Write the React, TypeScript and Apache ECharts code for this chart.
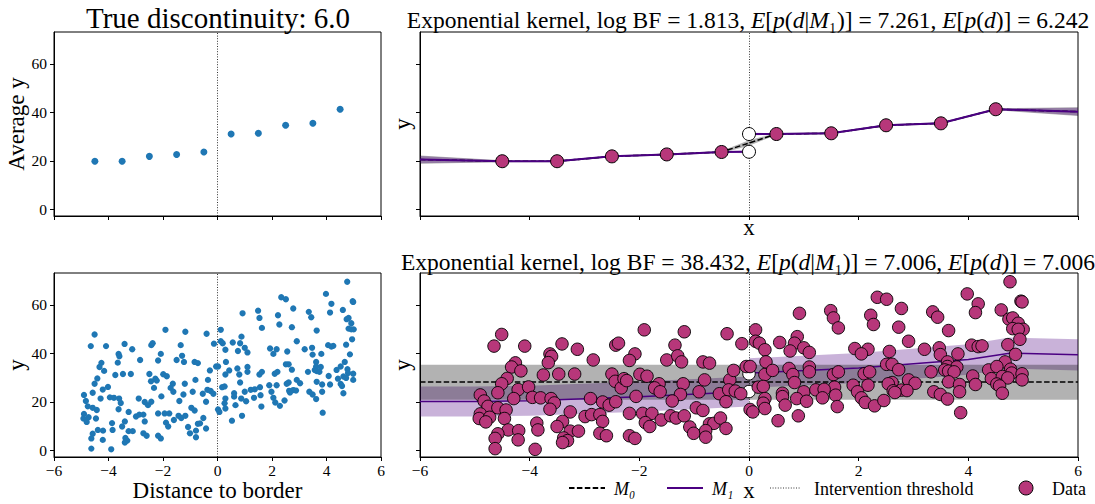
import React, { useEffect, useRef } from 'react';
import * as echarts from 'echarts';

const FONT = "'Liberation Serif', 'Times New Roman', serif";
const PINK = '#b7377a';
const PURPLE = '#4b0082';
const BLUE = '#1f77b4';
const GREY_BAND = 'rgba(0,0,0,0.3)';
const PURPLE_BAND = 'rgba(75,0,130,0.3)';

const Y_MIN = -2.65;
const Y_MAX = 73.1;
const yTickValues = [0, 20, 40, 60];

// binned averages (top row)
const binCentres = [-4.5, -3.5, -2.5, -1.5, -0.5, 0.5, 1.5, 2.5, 3.5, 4.5];
const binMeans = [19.9, 19.9, 21.9, 22.7, 23.7, 31.1, 31.4, 34.7, 35.5, 41.3];

// top-right model curves
const topM0X = [-6, -4.5, -3.5, -2.5, -1.5, -0.5, 0, 0.5, 1.5, 2.5, 3.5, 4.5, 6];
const topM0Y = [20.6, 19.9, 19.9, 21.9, 22.7, 23.7, 27.4, 31.1, 31.4, 34.7, 35.5, 41.3, 40.3];
const topM0Hw = [1.7, 0.4, 0.4, 0.4, 0.4, 0.4, 1.1, 0.4, 0.4, 0.4, 0.4, 0.4, 1.8];
const topM1LeftX = [-6, -4.5, -3.5, -2.5, -1.5, -0.5, 0];
const topM1LeftY = [20.6, 19.9, 19.9, 21.9, 22.7, 23.7, 23.8];
const topM1LeftHw = [1.5, 0.3, 0.3, 0.3, 0.3, 0.3, 0.6];
const topM1RightX = [0, 0.5, 1.5, 2.5, 3.5, 4.5, 6];
const topM1RightY = [31.1, 31.1, 31.4, 34.7, 35.5, 41.3, 40.3];
const topM1RightHw = [0.6, 0.3, 0.3, 0.3, 0.3, 0.3, 1.6];
const topCuts = [23.8, 31.1];

// bottom-right model curves
const botM0X = [-6, 6];
const botM0Y = [28.2, 28.2];
const botM0Lo = [20.9, 20.9];
const botM0Hi = [35.3, 35.3];
const botM1LeftX = [-6, -5, -4, -2, 0];
const botM1LeftY = [20.2, 20.2, 20.5, 22.2, 24.3];
const botM1LeftHw = [6.2, 6.2, 6.2, 6.2, 6.2];
const botM1RightX = [0, 2, 4, 4.75, 6];
const botM1RightY = [31.9, 34.0, 37.5, 40.1, 39.4];
const botM1RightHw = [6.1, 6.2, 6.3, 6.4, 6.4];
const botCuts = [24.3, 31.6];

// raw observations (x = distance to border, y)
const obsFarLeft = [
  [-4.51, 47.8], [-4.65, 43.0], [-4.09, 43.0], [-3.41, 43.9], [-3.13, 41.7], [-2.43, 43.4], [-3.63, 39.8], [-3.6, 38.8],
  [-4.26, 36.1], [-4.33, 34.4], [-4.16, 32.8], [-3.66, 36.2], [-2.84, 37.3], [-3.75, 31.1], [-3.47, 31.5], [-3.18, 31.5],
  [-2.5, 31.5], [-2.44, 28.5], [-4.41, 29.7], [-4.51, 27.5], [-4.58, 23.8], [-4.21, 25.1], [-4.02, 26.2], [-4.9, 22.9],
  [-4.83, 20.4], [-4.76, 18.2], [-4.58, 17.6], [-4.43, 16.7], [-4.29, 21.4], [-3.95, 21.9], [-3.8, 21.7], [-3.61, 21.4],
  [-3.55, 19.6], [-3.63, 17.0], [-2.89, 21.4], [-2.67, 20.0], [-2.55, 18.7], [-4.9, 15.1], [-4.92, 13.2], [-4.73, 13.7],
  [-4.46, 13.2], [-4.8, 11.8], [-3.26, 15.9], [-2.99, 14.0], [-2.87, 14.8], [-2.72, 14.8], [-2.67, 12.0], [-3.4, 12.0],
  [-3.5, 9.9], [-3.26, 8.0], [-3.11, 8.0], [-3.87, 11.3], [-3.85, 8.5], [-4.39, 8.5], [-4.2, 8.2], [-4.58, 6.9],
  [-4.63, 5.0], [-4.21, 4.4], [-3.38, 5.2], [-3.31, 4.1], [-3.4, 3.3], [-2.72, 7.1], [-2.6, 6.1], [-4.63, 0.8], [-3.9, 0.5],
];
const obsNearLeft = [
  [-1.91, 49.7], [-1.18, 48.9], [-0.4, 48.1], [-2.38, 44.2], [-1.35, 43.4], [-0.13, 44.0], [-2.08, 39.8], [-2.18, 37.1],
  [-1.5, 37.3], [-1.3, 39.0], [-1.23, 36.5], [-0.84, 36.5], [-0.72, 36.0], [-2.33, 25.8], [-2.28, 29.6], [-2.23, 28.8],
  [-1.99, 31.4], [-1.86, 30.6], [-1.64, 27.5], [-1.72, 25.8], [-1.62, 24.2], [-1.2, 27.5], [-0.81, 29.1], [-0.35, 29.1],
  [-0.28, 33.0], [-0.05, 34.6], [-0.91, 24.2], [-1.25, 23.1], [-1.4, 20.4], [-2.06, 22.3], [-0.54, 23.4], [-0.37, 25.0],
  [-0.25, 24.5], [-0.15, 23.4], [-0.42, 20.1], [-2.43, 20.1], [-2.18, 15.3], [-1.94, 15.3], [-1.77, 15.3], [-1.89, 11.5],
  [-1.81, 9.9], [-1.6, 12.6], [-1.43, 14.3], [-1.33, 13.4], [-1.18, 14.3], [-0.96, 17.6], [-0.84, 16.5], [-0.72, 11.0],
  [-0.64, 11.2], [-0.52, 13.4], [-1.08, 9.7], [-1.01, 7.1], [-0.79, 8.2], [-0.79, 5.5], [-0.42, 9.1], [-2.18, 6.1],
  [-2.08, 5.0], [0.02, 16.9],
];
const obsNearRight = [
  [2.34, 63.1], [2.51, 62.3], [0.92, 56.5], [1.49, 57.6], [1.54, 54.6], [1.63, 50.5], [2.22, 55.7], [2.27, 51.9],
  [2.78, 58.5], [2.73, 50.8], [0.12, 49.7], [0.12, 45.0], [0.19, 44.2], [0.56, 44.5], [0.88, 46.9], [0.83, 44.2],
  [1.0, 42.3], [1.1, 40.4], [0.75, 41.0], [0.29, 41.5], [1.93, 42.0], [2.17, 41.7], [2.05, 39.8], [2.56, 40.8],
  [0.31, 36.5], [0.02, 34.6], [0.29, 31.3], [0.43, 33.0], [0.73, 33.8], [1.1, 34.4], [1.1, 32.4], [0.8, 31.3],
  [0.83, 28.0], [0.17, 26.1], [0.26, 26.4], [1.54, 31.3], [1.63, 32.4], [2.1, 31.6], [2.2, 32.4], [2.51, 35.5],
  [2.61, 35.5], [2.73, 33.3], [2.61, 28.0], [2.54, 27.5], [1.9, 26.9], [2.17, 26.9], [1.56, 26.1], [0.61, 23.6],
  [0.61, 22.2], [1.0, 24.2], [1.22, 25.0], [1.37, 25.2], [0.29, 21.4], [0.26, 19.5], [0.87, 21.4], [1.05, 20.3],
  [1.34, 21.7], [1.58, 22.8], [1.98, 24.2], [2.05, 21.7], [2.12, 19.8], [2.29, 18.4], [2.46, 20.6], [2.63, 24.6],
  [2.78, 24.9], [0.66, 18.7], [0.29, 17.3], [0.07, 15.9], [1.61, 18.1], [0.53, 12.3], [0.9, 14.3],
];
const obsFarRight = [
  [4.76, 69.5], [3.98, 64.5], [4.18, 60.4], [4.96, 61.5], [4.98, 61.2], [3.35, 57.1], [3.44, 54.9], [4.13, 56.8],
  [4.6, 57.9], [4.74, 54.1], [4.81, 54.6], [4.91, 52.4], [4.81, 50.2], [5.0, 49.9], [4.91, 49.9], [3.64, 49.4],
  [4.94, 45.8], [2.91, 45.0], [4.72, 43.6], [4.06, 43.4], [4.18, 42.8], [4.25, 43.1], [4.86, 39.6], [3.2, 41.7],
  [3.47, 42.3], [3.49, 39.5], [3.81, 39.8], [3.62, 36.5], [4.67, 36.5], [3.62, 34.6], [3.79, 34.4], [3.57, 33.2],
  [3.32, 32.4], [3.64, 32.7], [3.74, 32.4], [4.37, 33.2], [4.52, 34.6], [4.77, 33.5], [4.79, 31.9], [4.98, 31.6],
  [4.08, 30.7], [4.42, 29.6], [4.62, 30.5], [4.72, 29.9], [4.98, 29.1], [2.91, 29.1], [3.03, 27.7], [3.64, 28.3],
  [3.84, 27.2], [4.13, 27.2], [4.52, 27.4], [4.57, 26.6], [2.88, 24.7], [2.66, 23.9], [3.37, 24.2], [3.49, 23.1],
  [3.62, 21.2], [3.84, 24.2], [4.62, 23.6], [3.86, 15.6],
];
const observations = [...obsFarLeft, ...obsNearLeft, ...obsNearRight, ...obsFarRight];

const topStats = { logBF: '1.813', eM1: '7.261', e: '6.242' };
const botStats = { logBF: '38.432', eM1: '7.006', e: '7.006' };

const minus = (v: number) => String(v).replace('-', '\u2212');

function mathTitle(s: { logBF: string; eM1: string; e: string }) {
  return (
    `{n|Exponential kernel, log BF = ${s.logBF}, }` +
    `{i|E}{n|[}{i|p}{n|(}{i|d}{n||}{i|M}{n|\u2081)] = ${s.eM1}, }` +
    `{i|E}{n|[}{i|p}{n|(}{i|d}{n|)] = ${s.e}}`
  );
}

function band(gi: number, xs: number[], lo: number[], hi: number[], color: string, z: number) {
  return {
    type: 'custom',
    xAxisIndex: gi,
    yAxisIndex: gi,
    z,
    silent: true,
    data: [[xs[0], lo[0]]],
    renderItem: (_p: any, api: any) => {
      const pts: number[][] = [];
      xs.forEach((x, i) => pts.push(api.coord([x, hi[i]])));
      for (let i = xs.length - 1; i >= 0; i--) pts.push(api.coord([xs[i], lo[i]]));
      return { type: 'polygon', shape: { points: pts }, style: { fill: color } };
    },
  };
}

function line(gi: number, xs: number[], ys: number[], color: string, width: number, dash: any, z: number, extra: any = {}) {
  return {
    type: 'line',
    xAxisIndex: gi,
    yAxisIndex: gi,
    data: xs.map((x, i) => [x, ys[i]]),
    symbol: 'none',
    lineStyle: { color, width, type: dash },
    z,
    silent: true,
    ...extra,
  };
}

const threshold = {
  silent: true,
  z: 2,
  symbol: ['none', 'none'],
  label: { show: false },
  lineStyle: { color: '#000', type: [1, 1.6], width: 0.8 },
  data: [{ xAxis: 0 }],
};

function mkX(gi: number, showLabel: boolean, name: string, nameGap: number) {
  return {
    type: 'value',
    gridIndex: gi,
    min: -6,
    max: 6,
    interval: 2,
    axisLine: { show: true, onZero: false, lineStyle: { color: '#000', width: 1 } },
    axisTick: { show: true, length: 4, lineStyle: { color: '#000' } },
    axisLabel: {
      show: showLabel,
      color: '#000',
      fontFamily: FONT,
      fontSize: 15.5,
      margin: 5,
      showMinLabel: true,
      showMaxLabel: true,
      formatter: minus,
    },
    splitLine: { show: false },
    name,
    nameLocation: 'middle',
    nameGap,
    nameTextStyle: { fontFamily: FONT, fontSize: 23, color: '#000' },
  };
}

function mkY(gi: number, showLabel: boolean, name: string, nameGap: number) {
  return {
    type: 'value',
    gridIndex: gi,
    min: Y_MIN,
    max: Y_MAX,
    axisLine: { show: true, onZero: false, lineStyle: { color: '#000', width: 1 } },
    axisTick: { show: true, length: 4, customValues: yTickValues, lineStyle: { color: '#000' } },
    axisLabel: {
      show: showLabel,
      customValues: yTickValues,
      color: '#000',
      fontFamily: FONT,
      fontSize: 15.5,
      margin: 7,
    },
    splitLine: { show: false },
    name,
    nameLocation: 'middle',
    nameGap,
    nameRotate: 90,
    nameTextStyle: { fontFamily: FONT, fontSize: 23, color: '#000' },
  };
}

const gridBase = { show: true, borderColor: '#000', borderWidth: 1, backgroundColor: 'transparent', containLabel: false };

export default function App() {
  const ref = useRef<HTMLDivElement>(null);
  useEffect(() => {
    if (!ref.current) return;
    const chart = echarts.init(ref.current, null, { renderer: 'svg' });
    const bins = binCentres.map((x, i) => [x, binMeans[i]]);
    const TS = 23.5;
    const richStyle = {
      n: { fontFamily: FONT, fontSize: TS, fill: '#000', color: '#000' },
      i: { fontFamily: FONT, fontSize: TS, fontStyle: 'italic', fill: '#000', color: '#000' },
    };
    const legText = (x: number, text: string, italic: boolean) => ({
      type: 'text', x, y: 489,
      style: {
        text, fontFamily: FONT, fontSize: 18, fontStyle: italic ? 'italic' : 'normal', fill: '#000',
        align: 'left', verticalAlign: 'middle', textAlign: 'left', textVerticalAlign: 'middle',
      },
    });
    const option: any = {
      animation: false,
      backgroundColor: '#fff',
      grid: [
        { ...gridBase, left: 54, top: 32, width: 327, height: 184 },
        { ...gridBase, left: 420, top: 32, width: 658, height: 184 },
        { ...gridBase, left: 54, top: 273, width: 327, height: 184 },
        { ...gridBase, left: 420, top: 273, width: 658, height: 184 },
      ],
      xAxis: [mkX(0, false, '', 0), mkX(1, false, 'x', 0), mkX(2, true, 'Distance to border', 22), mkX(3, true, 'x', 22)],
      yAxis: [mkY(0, true, 'Average y', 25), mkY(1, false, 'y', 6), mkY(2, true, 'y', 25), mkY(3, false, 'y', 6)],
      series: [
        // top-left
        {
          type: 'scatter', xAxisIndex: 0, yAxisIndex: 0, data: bins, symbolSize: 7,
          itemStyle: { color: BLUE, opacity: 1 }, markLine: threshold, silent: true,
        },
        // top-right
        band(1, topM0X, topM0Y.map((y, i) => y - topM0Hw[i]), topM0Y.map((y, i) => y + topM0Hw[i]), GREY_BAND, 1),
        band(1, topM1LeftX, topM1LeftY.map((y, i) => y - topM1LeftHw[i]), topM1LeftY.map((y, i) => y + topM1LeftHw[i]), PURPLE_BAND, 1),
        band(1, topM1RightX, topM1RightY.map((y, i) => y - topM1RightHw[i]), topM1RightY.map((y, i) => y + topM1RightHw[i]), PURPLE_BAND, 1),
        line(1, topM0X, topM0Y, '#000', 1.5, [5.5, 2.4], 2, { markLine: threshold }),
        line(1, topM1LeftX, topM1LeftY, PURPLE, 2, 'solid', 3),
        line(1, topM1RightX, topM1RightY, PURPLE, 2, 'solid', 3),
        {
          type: 'scatter', xAxisIndex: 1, yAxisIndex: 1, data: topCuts.map((y) => [0, y]), symbolSize: 13, z: 4,
          itemStyle: { color: '#fff', borderColor: '#000', borderWidth: 1, opacity: 1 }, silent: true,
        },
        {
          type: 'scatter', xAxisIndex: 1, yAxisIndex: 1, data: bins, symbolSize: 13, z: 5,
          itemStyle: { color: PINK, borderColor: '#000', borderWidth: 1, opacity: 1 }, silent: true,
        },
        // bottom-left
        {
          type: 'scatter', xAxisIndex: 2, yAxisIndex: 2, data: observations, symbolSize: 6.3,
          itemStyle: { color: BLUE, opacity: 1 }, markLine: threshold, silent: true,
        },
        // bottom-right
        band(3, botM1LeftX, botM1LeftY.map((y, i) => y - botM1LeftHw[i]), botM1LeftY.map((y, i) => y + botM1LeftHw[i]), PURPLE_BAND, 1),
        band(3, botM1RightX, botM1RightY.map((y, i) => y - botM1RightHw[i]), botM1RightY.map((y, i) => y + botM1RightHw[i]), PURPLE_BAND, 1),
        band(3, botM0X, botM0Lo, botM0Hi, GREY_BAND, 1),
        line(3, botM1LeftX, botM1LeftY, PURPLE, 1.5, 'solid', 2),
        line(3, botM1RightX, botM1RightY, PURPLE, 1.5, 'solid', 2),
        line(3, botM0X, botM0Y, '#000', 1.5, [5.5, 2.4], 3, { markLine: threshold }),
        {
          type: 'scatter', xAxisIndex: 3, yAxisIndex: 3, data: botCuts.map((y) => [0, y]), symbolSize: 12.5, z: 4,
          itemStyle: { color: '#fff', borderColor: '#000', borderWidth: 1, opacity: 1 }, silent: true,
        },
        {
          type: 'scatter', xAxisIndex: 3, yAxisIndex: 3, data: observations, symbolSize: 12.5, z: 5,
          itemStyle: { color: PINK, borderColor: '#000', borderWidth: 0.9, opacity: 1 }, silent: true,
        },
      ],
      graphic: [
        {
          type: 'text', x: 218, y: 18,
          style: { text: 'True discontinuity: 6.0', fontFamily: FONT, fontSize: 29, fill: '#000', align: 'center', verticalAlign: 'middle', textAlign: 'center', textVerticalAlign: 'middle' },
        },
        {
          type: 'text', x: 748, y: 20,
          style: { text: mathTitle(topStats), rich: richStyle, fontFamily: FONT, fontSize: TS, fill: '#000', align: 'center', verticalAlign: 'middle', textAlign: 'center', textVerticalAlign: 'middle' },
        },
        {
          type: 'text', x: 748, y: 262,
          style: { text: mathTitle(botStats), rich: richStyle, fontFamily: FONT, fontSize: TS, fill: '#000', align: 'center', verticalAlign: 'middle', textAlign: 'center', textVerticalAlign: 'middle' },
        },
        // legend
        { type: 'line', shape: { x1: 569, y1: 488, x2: 605, y2: 488 }, style: { stroke: '#000', lineWidth: 1.8, lineDash: [5.5, 2.4] } },
        legText(614, 'M\u2080', true),
        { type: 'line', shape: { x1: 667, y1: 488, x2: 703, y2: 488 }, style: { stroke: PURPLE, lineWidth: 1.8 } },
        legText(712, 'M\u2081', true),
        { type: 'line', shape: { x1: 770, y1: 488, x2: 801, y2: 488 }, style: { stroke: '#000', lineWidth: 0.8, lineDash: [1, 1.6] } },
        legText(814, 'Intervention threshold', false),
        { type: 'circle', shape: { cx: 1026, cy: 488, r: 7 }, style: { fill: PINK, stroke: '#000', lineWidth: 1 } },
        legText(1052, 'Data', false),
      ],
    };
    chart.setOption(option);
    return () => chart.dispose();
  }, []);
  return <div ref={ref} style={{ position: 'fixed', left: 0, top: 0, width: 1095, height: 504 }} />;
}
